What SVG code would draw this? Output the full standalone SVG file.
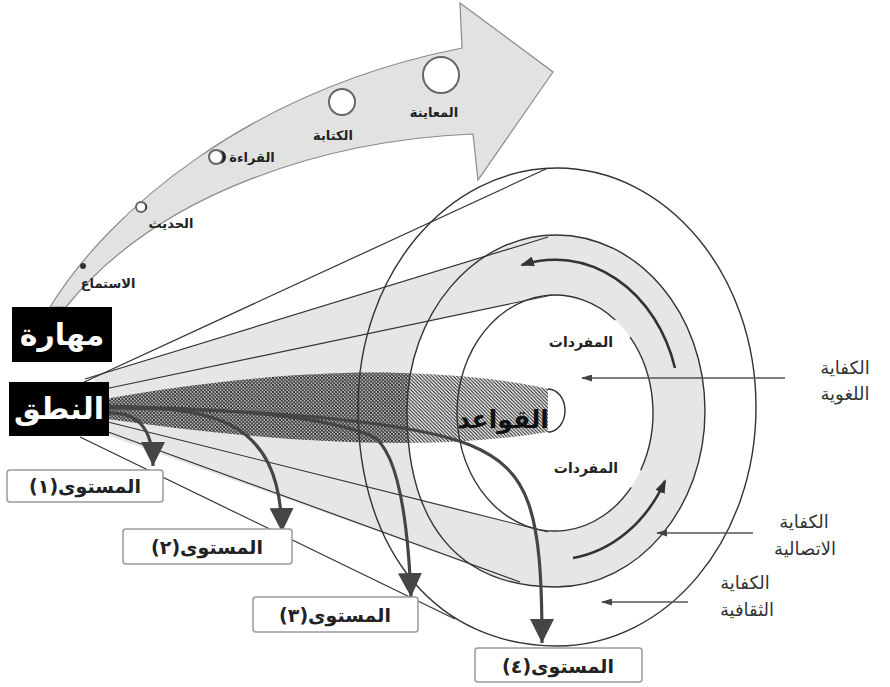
<svg xmlns="http://www.w3.org/2000/svg" width="890" height="687" viewBox="0 0 890 687">
<style>
 .ar{font-family:'DejaVu Sans','Noto Sans',sans-serif;}
 .ln{fill:none;stroke:#333;stroke-width:1.2}
 .ell{fill:none;stroke:#333;stroke-width:1.4}
 .lvl{fill:none;stroke:#454545;stroke-width:3.2}
 .ring{fill:none;stroke:#333;stroke-width:2.6}
 .thin{fill:none;stroke:#555;stroke-width:1.3}
 .lbl{font-size:18px;fill:#333}
 .stage{font-size:13px;font-weight:bold;fill:#222}
 .lvt{font-size:19px;font-weight:bold;fill:#222}
 .box{fill:#fff;stroke:#9a9a9a;stroke-width:1.5}
 .bead{fill:#fff;stroke:#666;stroke-width:2}
 .blk{fill:#000}
 .wt{font-size:30px;font-weight:bold;fill:#fff}
</style>
<defs>
 <marker id="mLvl" markerUnits="userSpaceOnUse" markerWidth="24" markerHeight="24" viewBox="0 0 24 24" refX="24" refY="12" orient="auto"><path d="M0,0 L24,12 L0,24 Z" fill="#454545"/></marker>
 <marker id="mRing" markerUnits="userSpaceOnUse" markerWidth="14" markerHeight="10" viewBox="0 0 14 10" refX="12" refY="5" orient="auto"><path d="M0,0 L14,5 L0,10 Z" fill="#333"/></marker>
 <marker id="mSm" markerUnits="userSpaceOnUse" markerWidth="11" markerHeight="7" viewBox="0 0 11 7" refX="10" refY="3.5" orient="auto"><path d="M0,0 L11,3.5 L0,7 Z" fill="#444"/></marker>
 <pattern id="h1" patternUnits="userSpaceOnUse" width="3.5" height="3.5"><path d="M-1,-1 L4.5,4.5 M-1,2.5 L1,4.5 M2.5,-1 L4.5,1" stroke="#2a2a2a" stroke-width="1.1"/></pattern>
 <pattern id="h2" patternUnits="userSpaceOnUse" width="3.5" height="3.5"><path d="M-1,4.5 L4.5,-1 M-1,1 L1,-1 M2.5,4.5 L4.5,2.5" stroke="#2a2a2a" stroke-width="1"/></pattern>
 <clipPath id="inMid"><path d="M407,411 C407,314 474,235 556,235 C638,235 705,313 705,411 C705,508 638,587 556,587 C455,587 407,520 407,411 Z"/></clipPath>
 <clipPath id="outMid"><path clip-rule="evenodd" d="M0,0 H890 V687 H0 Z M407,411 C407,314 474,235 556,235 C638,235 705,313 705,411 C705,508 638,587 556,587 C455,587 407,520 407,411 Z"/></clipPath>
</defs>
<rect width="890" height="687" fill="#fff"/>

<g id="skill-arrow">
 <path d="M50,307 C110,210 250,90 462,48 L460,3 L553,72 L478,180 L473,134 C330,140 160,190 66,307 Z" fill="#e2e2e2" stroke="#8a8a8a" stroke-width="1.2"/>
 <circle class="bead" cx="441" cy="75" r="18" stroke-width="3"/>
 <circle class="bead" cx="342" cy="102" r="13" stroke-width="2.5"/>
 <circle class="bead" cx="216" cy="157" r="7" stroke-width="1.5"/>
 <path d="M219,150 A7,7 0 0 1 219,164 A4,7 0 0 0 219,150 Z" fill="#222"/>
 <circle class="bead" cx="141" cy="207" r="5" stroke-width="1.2"/>
 <path d="M143,202 A5,5 0 0 1 145,211 A3,5 0 0 0 143,202 Z" fill="#222"/>
 <circle cx="83" cy="266" r="3" fill="#333"/>
 <text class="ar stage" x="434" y="117" text-anchor="middle">المعاينة</text>
 <text class="ar stage" x="333" y="140" text-anchor="middle">الكتابة</text>
 <text class="ar stage" x="252" y="162" text-anchor="middle">القراءة</text>
 <text class="ar stage" x="171" y="228" text-anchor="middle">الحديث</text>
 <text class="ar stage" x="108" y="288" text-anchor="middle">الاستماع</text>
</g>

<g id="competence-cones">
 <path d="M95,376 L548,237 L520,582 L95,431 Z" fill="#e6e6e6"/>
 <path d="M407,411 C407,314 474,235 556,235 C638,235 705,313 705,411 C705,508 638,587 556,587 C455,587 407,520 407,411 Z" fill="#e6e6e6"/>
 <path d="M100,390 L552,295 L548,532 L100,420 Z" fill="#fff" clip-path="url(#inMid)"/>
 <ellipse cx="555" cy="413" rx="98" ry="118" fill="#fff"/>
</g>

<g id="connectors">
 <path class="ln" d="M80,384 L548,168"/>
 <path class="ln" d="M85,379 L548,237"/>
 <path class="ln" d="M100,390 L552,295"/>
 <path class="ln" d="M100,420 L548,532"/>
 <path class="ln" d="M100,429 L520,582"/>
 <path class="ln" d="M80,437 L455,619"/>
</g>

<g id="grammar">
 <path d="M100,400 C180,385 300,370 400,373 C470,375 520,382 548,389 L548,432 C500,440 450,443 400,443 C300,443 200,432 100,418 Z" fill="#fff"/>
 <path d="M100,400 C180,385 300,370 400,373 C470,375 520,382 548,389 L548,432 C500,440 450,443 400,443 C300,443 200,432 100,418 Z" fill="url(#h1)"/>
 <path d="M100,400 C180,385 300,370 400,373 C470,375 520,382 548,389 L548,432 C500,440 450,443 400,443 C300,443 200,432 100,418 Z" fill="url(#h2)" clip-path="url(#outMid)"/>
 <path d="M548,389 A17,21.5 0 0 1 548,432" fill="#fff" stroke="#333" stroke-width="1.4"/>
</g>

<g id="ellipses">
 <path class="ell" d="M358,407 C358,275 447,168 557,168 C667,168 756,275 756,407 C756,540 667,646 557,646 C440,646 358,555 358,407 Z"/>
 <path class="ell" d="M407,411 C407,314 474,235 556,235 C638,235 705,313 705,411 C705,508 638,587 556,587 C455,587 407,520 407,411 Z"/>
 <path class="ell" d="M630.1,337.2 A98,118 0 0 1 640.7,470.2"/>
 <path class="ell" d="M631.2,487.3 A98,118 0 1 1 615.3,320"/>
 <path class="ring" d="M675,368 A125,150 0 0 0 522,265" marker-end="url(#mRing)"/>
 <path class="ring" d="M573,558 A125,150 0 0 0 665,481" marker-end="url(#mRing)"/>
</g>

<g id="level-arrows">
 <path class="lvl" d="M108,413 C135,412 153,425 153,466" marker-end="url(#mLvl)"/>
 <path class="lvl" d="M105,406 C210,408 280,415 282,532" marker-end="url(#mLvl)"/>
 <path class="lvl" d="M105,407 Q300,408 370,435 Q405,450 411,597" marker-end="url(#mLvl)"/>
 <path class="lvl" d="M105,408 C300,410 420,425 470,445 C530,470 542,510 542,643" marker-end="url(#mLvl)"/>
</g>

<g id="node-grammar-label">
 <text class="ar" x="503" y="428" text-anchor="middle" font-size="25" font-weight="bold" fill="#111">القواعد</text>
</g>

<g id="node-vocab">
 <text class="ar" x="581" y="347" text-anchor="middle" font-size="14" font-weight="bold" fill="#222">المفردات</text>
 <text class="ar" x="586" y="473" text-anchor="middle" font-size="14" font-weight="bold" fill="#222">المفردات</text>
</g>

<g id="node-linguistic">
 <text class="ar lbl" x="845" y="374" text-anchor="middle">الكفاية</text>
 <text class="ar lbl" x="845" y="400" text-anchor="middle">اللغوية</text>
 <path class="thin" d="M785,378 L582,378" marker-end="url(#mSm)"/>
</g>
<g id="node-communicative">
 <text class="ar lbl" x="804" y="528" text-anchor="middle">الكفاية</text>
 <text class="ar lbl" x="805" y="555" text-anchor="middle">الاتصالية</text>
 <path class="thin" d="M753,533 L657,533" marker-end="url(#mSm)"/>
</g>
<g id="node-cultural">
 <text class="ar lbl" x="745" y="589" text-anchor="middle">الكفاية</text>
 <text class="ar lbl" x="747" y="616" text-anchor="middle">الثقافية</text>
 <path class="thin" d="M688,602 L602,602" marker-end="url(#mSm)"/>
</g>

<g id="node-maharat">
 <rect class="blk" x="12" y="307" width="100" height="55"/>
 <text class="ar wt" x="62" y="345" text-anchor="middle">مهارة</text>
</g>
<g id="node-nutq">
 <rect class="blk" x="9" y="382" width="100" height="54"/>
 <text class="ar wt" x="59" y="419" text-anchor="middle">النطق</text>
</g>

<g id="node-level1">
 <rect class="box" x="7" y="470" width="156" height="32" rx="3"/>
 <text class="ar lvt" x="85" y="493" text-anchor="middle" direction="rtl">المستوى(١)</text>
</g>
<g id="node-level2">
 <rect class="box" x="123" y="529" width="169" height="35" rx="3"/>
 <text class="ar lvt" x="207" y="554" text-anchor="middle" direction="rtl">المستوى(٢)</text>
</g>
<g id="node-level3">
 <rect class="box" x="253" y="597" width="165" height="35" rx="3"/>
 <text class="ar lvt" x="335" y="622" text-anchor="middle" direction="rtl">المستوى(٣)</text>
</g>
<g id="node-level4">
 <rect class="box" x="475" y="648" width="167" height="34" rx="3"/>
 <text class="ar lvt" x="558" y="673" text-anchor="middle" direction="rtl">المستوى(٤)</text>
</g>
</svg>
